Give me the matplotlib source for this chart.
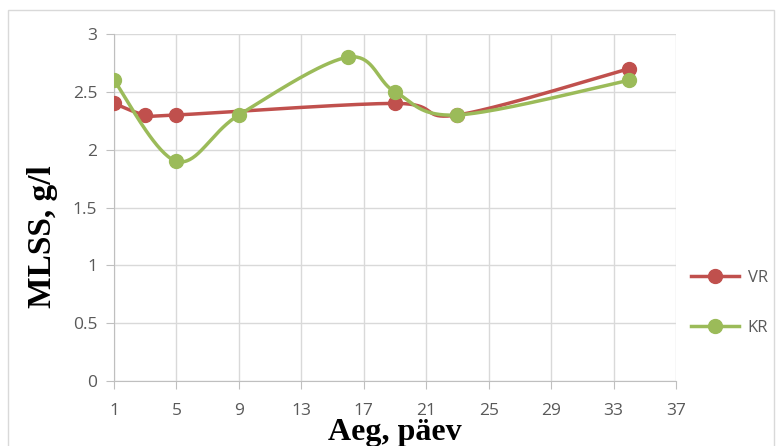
import numpy as np
import matplotlib
matplotlib.use("Agg")
import matplotlib.pyplot as plt
from matplotlib.patches import Rectangle

# Data
vr_day = [1, 3, 5, 19, 23, 34]
vr_mlss = [2.4, 2.3, 2.3, 2.4, 2.3, 2.7]
kr_day = [1, 5, 9, 16, 19, 23, 34]
kr_mlss = [2.6, 1.9, 2.3, 2.8, 2.5, 2.3, 2.6]
x_ticks = [1, 5, 9, 13, 17, 21, 25, 29, 33, 37]
y_ticks = [0, 0.5, 1, 1.5, 2, 2.5, 3]


def smooth(xs, ys, n=40):
    # Excel-style smoothed line (cubic Bezier through points)
    p = np.column_stack([xs, ys]).astype(float)
    p = np.vstack([p[0], p, p[-1]])
    out = []
    for i in range(1, len(p) - 2):
        p0, p1, p2, p3 = p[i - 1], p[i], p[i + 1], p[i + 2]
        c1 = p1 + (p2 - p0) / 6
        c2 = p2 - (p3 - p1) / 6
        t = np.linspace(0, 1, n)[:, None]
        seg = ((1 - t) ** 3) * p1 + 3 * ((1 - t) ** 2) * t * c1 + 3 * (1 - t) * t ** 2 * c2 + t ** 3 * p2
        out.append(seg)
    s = np.vstack(out)
    return s[:, 0], s[:, 1]


fig = plt.figure(figsize=(7.76, 4.46), dpi=100)
fig.patches.append(Rectangle((8 / 776, -0.01), 1 - 8 / 776 - 0.002, 1 - 10 / 446 + 0.01,
                             transform=fig.transFigure, fill=False,
                             edgecolor="#d9d9d9", linewidth=1))
ax = fig.add_axes([114 / 776, 65 / 446, (676 - 114) / 776, (381 - 34) / 446])

red = "#C0504D"
green = "#9BBB59"

sx, sy = smooth(vr_day, vr_mlss)
ax.plot(sx, sy, color=red, lw=2.5, zorder=3, solid_capstyle="round")
ax.plot(vr_day, vr_mlss, "o", color=red, ms=10, zorder=3)
sx, sy = smooth(kr_day, kr_mlss)
ax.plot(sx, sy, color=green, lw=2.5, zorder=4, solid_capstyle="round")
ax.plot(kr_day, kr_mlss, "o", color=green, ms=10, zorder=4)

ax.set_xlim(1, 37)
ax.set_ylim(0, 3)
ax.set_xticks(x_ticks)
ax.set_yticks(y_ticks)
ax.set_yticklabels(["0", "0.5", "1", "1.5", "2", "2.5", "3"])
ax.grid(True, color="#d9d9d9", lw=1)
ax.set_axisbelow(True)
for side in ["top", "right"]:
    ax.spines[side].set_visible(False)
for side in ["left", "bottom"]:
    ax.spines[side].set_color("#bfbfbf")
ax.tick_params(colors="#bfbfbf", length=6, labelcolor="#595959", labelsize=12.5)
ax.tick_params(axis="x", pad=10)
ax.tick_params(axis="y", pad=6)
for lab in ax.get_xticklabels() + ax.get_yticklabels():
    lab.set_family("Open Sans")

# axis titles (placed by hand, the x title overlaps the tick labels as in the original)
ax.text(0.5, -0.147, "Aeg, päev", transform=ax.transAxes, ha="center", va="center",
        family="Liberation Serif", weight="bold", fontsize=23)
ax.text(-0.128, 0.415, "MLSS, g/l", transform=ax.transAxes, ha="center", va="center",
        rotation=90, family="Liberation Serif", weight="bold", fontsize=24)

h1, = ax.plot([], [], "-o", color=red, lw=2.5, ms=10, label="VR")
h2, = ax.plot([], [], "-o", color=green, lw=2.5, ms=10, label="KR")
leg = fig.legend(handles=[h1, h2], loc="center left", bbox_to_anchor=(676 / 776, 0.321),
                 frameon=False, labelspacing=2.0, handlelength=2.9, handletextpad=0.5,
                 prop={"family": "Open Sans", "size": 12})
for t in leg.get_texts():
    t.set_color("#595959")

fig.savefig("out.png", dpi=100)
